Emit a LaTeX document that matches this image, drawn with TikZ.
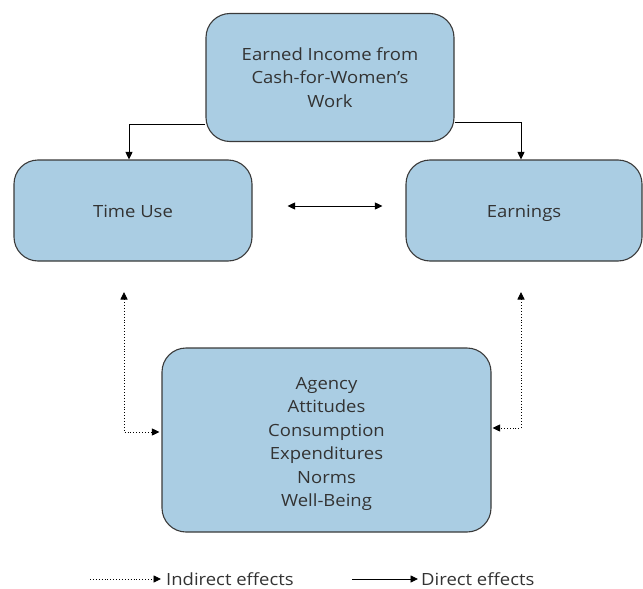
\documentclass[tikz,border=0pt]{standalone}
\usepackage{fontspec}
\setmainfont{Open Sans}[FakeStretch=1.1]
\usetikzlibrary{arrows.meta}
\definecolor{boxfill}{HTML}{AACDE3}
\definecolor{boxline}{HTML}{3A3A3A}
\definecolor{inkcol}{HTML}{333333}
\begin{document}
\begin{tikzpicture}[x=1pt,y=-1pt,
  box/.style={draw=boxline, fill=boxfill, rounded corners=24pt, line width=1.1pt,
    align=center, text=inkcol, font=\fontsize{16.8}{23.4}\selectfont, inner sep=0pt},
  oneline/.style={text height=17pt, text depth=4pt},
  tip/.style={-{Triangle[length=7.5pt,width=7pt]}},
  direct/.style={tip, line width=0.9pt, black},
  indirect/.style={line width=0.9pt, black, dotted},
  legend/.style={text=inkcol, font=\fontsize{16.8}{18}\selectfont, anchor=west, inner sep=0pt}]
\useasboundingbox (0,0) rectangle (643,589);

% boxes
\node[box, minimum width=248pt, minimum height=128pt] (income) at (330,77.5)
  {Earned Income from\\Cash-for-Women’s\\Work};
\node[box, oneline, minimum width=238pt, minimum height=101pt] (timeuse) at (133,210.5) {Time Use};
\node[box, oneline, minimum width=236pt, minimum height=101pt] (earnings) at (524,210.5) {Earnings};
\node[box, minimum width=329pt, minimum height=184pt] (outcomes) at (326.5,440)
  {\rule{0pt}{20pt}Agency\\Attitudes\\Consumption\\Expenditures\\Norms\\Well-Being};

% direct effects from income
\draw[direct] ([yshift=18pt]income.south west) -| ([xshift=-4pt]timeuse.north);
\draw[direct] ([yshift=20pt]income.south east) -| ([xshift=-3pt]earnings.north);
\draw[{Triangle[length=7.5pt,width=7pt]}-{Triangle[length=7.5pt,width=7pt]}, line width=0.9pt]
  ([yshift=4.5pt]timeuse.east) ++(35,0) -- ([yshift=4.5pt,xshift=-23pt]earnings.west);

% indirect effects
\coordinate (lt) at (124,292);
\coordinate (rt) at (521,292);
\draw[indirect, {Triangle[length=7.5pt,width=7pt]}-{Triangle[length=7.5pt,width=7pt]}]
  (lt) |- ([yshift=8pt,xshift=-2pt]outcomes.west);
\draw[indirect, {Triangle[length=7.5pt,width=7pt]}-{Triangle[length=7.5pt,width=7pt]}]
  (rt) |- ([yshift=12pt,xshift=1pt]outcomes.east);

% legend
\coordinate (l1a) at (90,579);
\coordinate (l1b) at (161,579);
\coordinate (l2a) at (352,579);
\coordinate (l2b) at (418,579);
\draw[indirect, -{Triangle[length=7.5pt,width=7pt]}] (l1a) -- (l1b);
\node[legend] (lindirect) at (166,579) {Indirect effects};
\draw[direct] (l2a) -- (l2b);
\node[legend] (ldirect) at (421,579) {Direct effects};
\end{tikzpicture}
\end{document}
